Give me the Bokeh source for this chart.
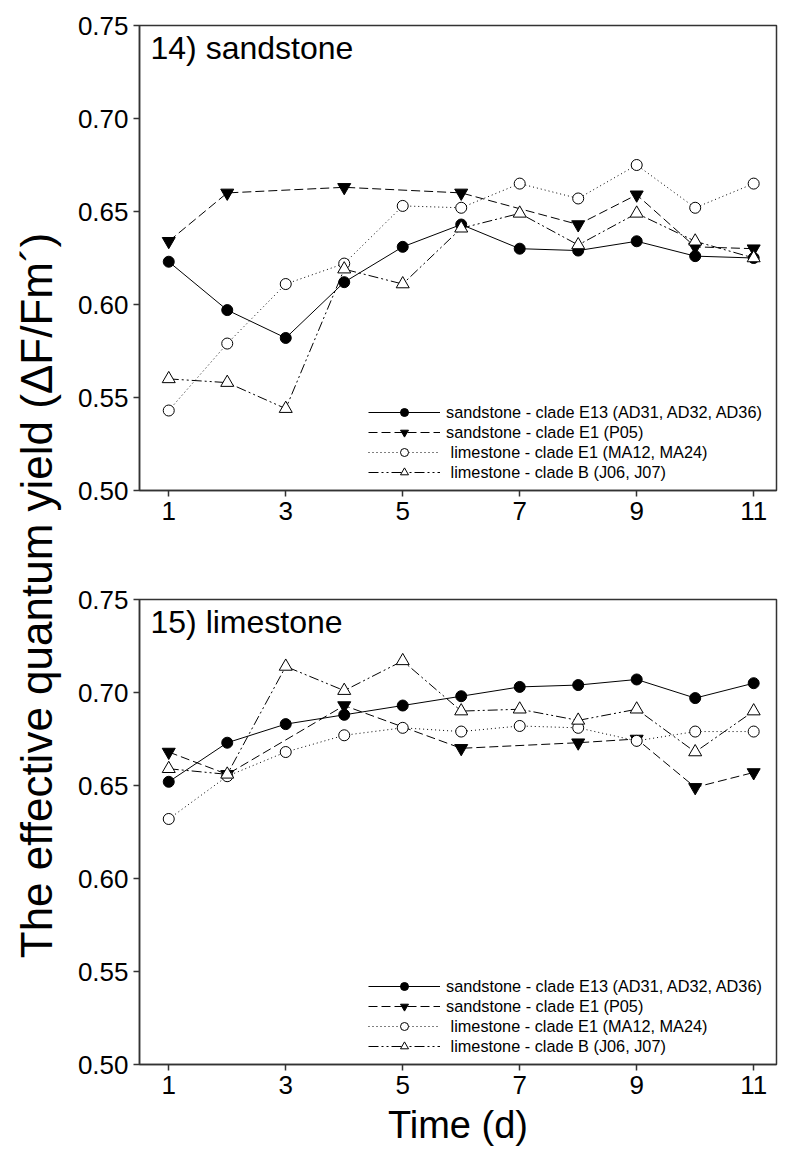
import math
from bokeh.plotting import figure
from bokeh.layouts import row, column
from bokeh.models import (FixedTicker, NumeralTickFormatter, Label, Legend,
                          LegendItem, Range1d)
from bokeh.embed import file_html
from bokeh.resources import INLINE

# ---------------- data ----------------
days = [1, 2, 3, 4, 5, 6, 7, 8, 9, 10, 11]
days_e1 = [1, 2, 4, 6, 8, 9, 10, 11]

# panel 14) sandstone
sand_e13_top = [0.623, 0.597, 0.582, 0.612, 0.631, 0.643, 0.630, 0.629, 0.634, 0.626, 0.625]
sand_e1_top = [0.634, 0.660, 0.663, 0.660, 0.643, 0.659, 0.631, 0.630]
lime_e1_top = [0.543, 0.579, 0.611, 0.622, 0.653, 0.652, 0.665, 0.657, 0.675, 0.652, 0.665]
lime_b_top = [0.560, 0.558, 0.544, 0.619, 0.611, 0.641, 0.649, 0.632, 0.649, 0.634, 0.625]

# panel 15) limestone
sand_e13_bot = [0.652, 0.673, 0.683, 0.688, 0.693, 0.698, 0.703, 0.704, 0.707, 0.697, 0.705]
sand_e1_bot = [0.668, 0.656, 0.693, 0.670, 0.673, 0.675, 0.649, 0.657]
lime_e1_bot = [0.632, 0.655, 0.668, 0.677, 0.681, 0.679, 0.682, 0.681, 0.674, 0.679, 0.679]
lime_b_bot = [0.659, 0.656, 0.714, 0.701, 0.717, 0.690, 0.691, 0.685, 0.691, 0.668, 0.690]

series_labels = [
    "sandstone - clade E13 (AD31, AD32, AD36)",
    "sandstone - clade E1 (P05)",
    " limestone - clade E1 (MA12, MA24)",
    " limestone - clade B (J06, J07)",
]
x_ticks = [1, 3, 5, 7, 9, 11]
y_ticks = [0.50, 0.55, 0.60, 0.65, 0.70, 0.75]
panel_titles = ["14) sandstone", "15) limestone"]
y_title = "The effective quantum yield (\u0394F/Fm\u00b4)"
x_title = "Time (d)"

FONT = "Liberation Sans"
FRAME = "#333333"

styles = [
    dict(dash="solid", marker="circle", fill="black", size=11),
    dict(dash="9 4", marker="inverted_triangle", fill="black", size=13),
    dict(dash="1 3", marker="circle", fill="white", size=11),
    dict(dash="10 3 2 3 2 3", marker="triangle", fill="white", size=13),
]


def make_panel(series, title, height, top, bottom, show_xlabel):
    p = figure(width=720, height=height,
               x_range=Range1d(0.5, 11.39), y_range=Range1d(0.5, 0.75),
               output_backend="svg", toolbar_location=None,
               min_border_left=75, min_border_right=8,
               min_border_top=top, min_border_bottom=bottom)
    p.grid.visible = False
    p.outline_line_color = FRAME
    p.outline_line_width = 1.5
    p.background_fill_color = "white"
    p.border_fill_color = "white"

    for ax in (p.xaxis[0], p.yaxis[0]):
        ax.axis_line_color = FRAME
        ax.axis_line_width = 1.5
        ax.major_tick_line_color = FRAME
        ax.major_tick_line_width = 1.5
        ax.major_tick_in = 0
        ax.major_tick_out = 6
        ax.minor_tick_in = 0
        ax.minor_tick_out = 0
        ax.major_label_text_font = FONT
        ax.major_label_text_font_size = "26px"
        ax.major_label_text_color = "black"
        ax.major_label_standoff = 5
    p.xaxis[0].ticker = FixedTicker(ticks=x_ticks)
    p.yaxis[0].ticker = FixedTicker(ticks=y_ticks)
    p.yaxis[0].formatter = NumeralTickFormatter(format="0.00")
    if show_xlabel:
        p.xaxis[0].axis_label = x_title
        p.xaxis[0].axis_label_text_font = FONT
        p.xaxis[0].axis_label_text_font_size = "38px"
        p.xaxis[0].axis_label_text_font_style = "normal"
        p.xaxis[0].axis_label_text_color = "black"
        p.xaxis[0].axis_label_standoff = 7

    items = []
    for (xs, ys), st, lab in zip(series, styles, series_labels):
        lr = p.line(xs, ys, line_color="black", line_width=1, line_dash=st["dash"])
        sr = p.scatter(xs, ys, marker=st["marker"], size=st["size"],
                       fill_color=st["fill"], line_color="black", line_width=1)
        items.append(LegendItem(label=lab, renderers=[lr, sr]))

    legend = Legend(items=items, location=(229, 8), padding=0, spacing=0,
                    margin=0, glyph_width=72, glyph_height=20, label_height=20,
                    label_standoff=6, label_text_font=FONT,
                    label_text_font_size="16.3px", label_text_color="black",
                    border_line_alpha=0, background_fill_alpha=0)
    p.add_layout(legend)

    p.add_layout(Label(x=0.5, x_offset=11, y=0.738, text=title,
                       text_font=FONT, text_font_size="32px",
                       text_color="black", text_baseline="alphabetic"))
    return p


top_fig = make_panel(
    [(days, sand_e13_top), (days_e1, sand_e1_top), (days, lime_e1_top), (days, lime_b_top)],
    panel_titles[0], 550, 25, 60, False)
bot_fig = make_panel(
    [(days, sand_e13_bot), (days_e1, sand_e1_bot), (days, lime_e1_bot), (days, lime_b_bot)],
    panel_titles[1], 603, 49, 89, True)

t = figure(width=64, height=1153, x_range=Range1d(0, 64), y_range=Range1d(0, 1153),
           output_backend="svg", toolbar_location=None, min_border=0,
           x_axis_location=None, y_axis_location=None)
t.grid.visible = False
t.outline_line_color = None
t.add_layout(Label(x=36, y=558, text=y_title, angle=math.pi / 2,
                   text_align="center", text_baseline="middle",
                   text_font=FONT, text_font_size="44px", text_color="black"))

layout = row(t, column(top_fig, bot_fig))

with open("out.html", "w") as f:
    f.write(file_html(layout, INLINE))
